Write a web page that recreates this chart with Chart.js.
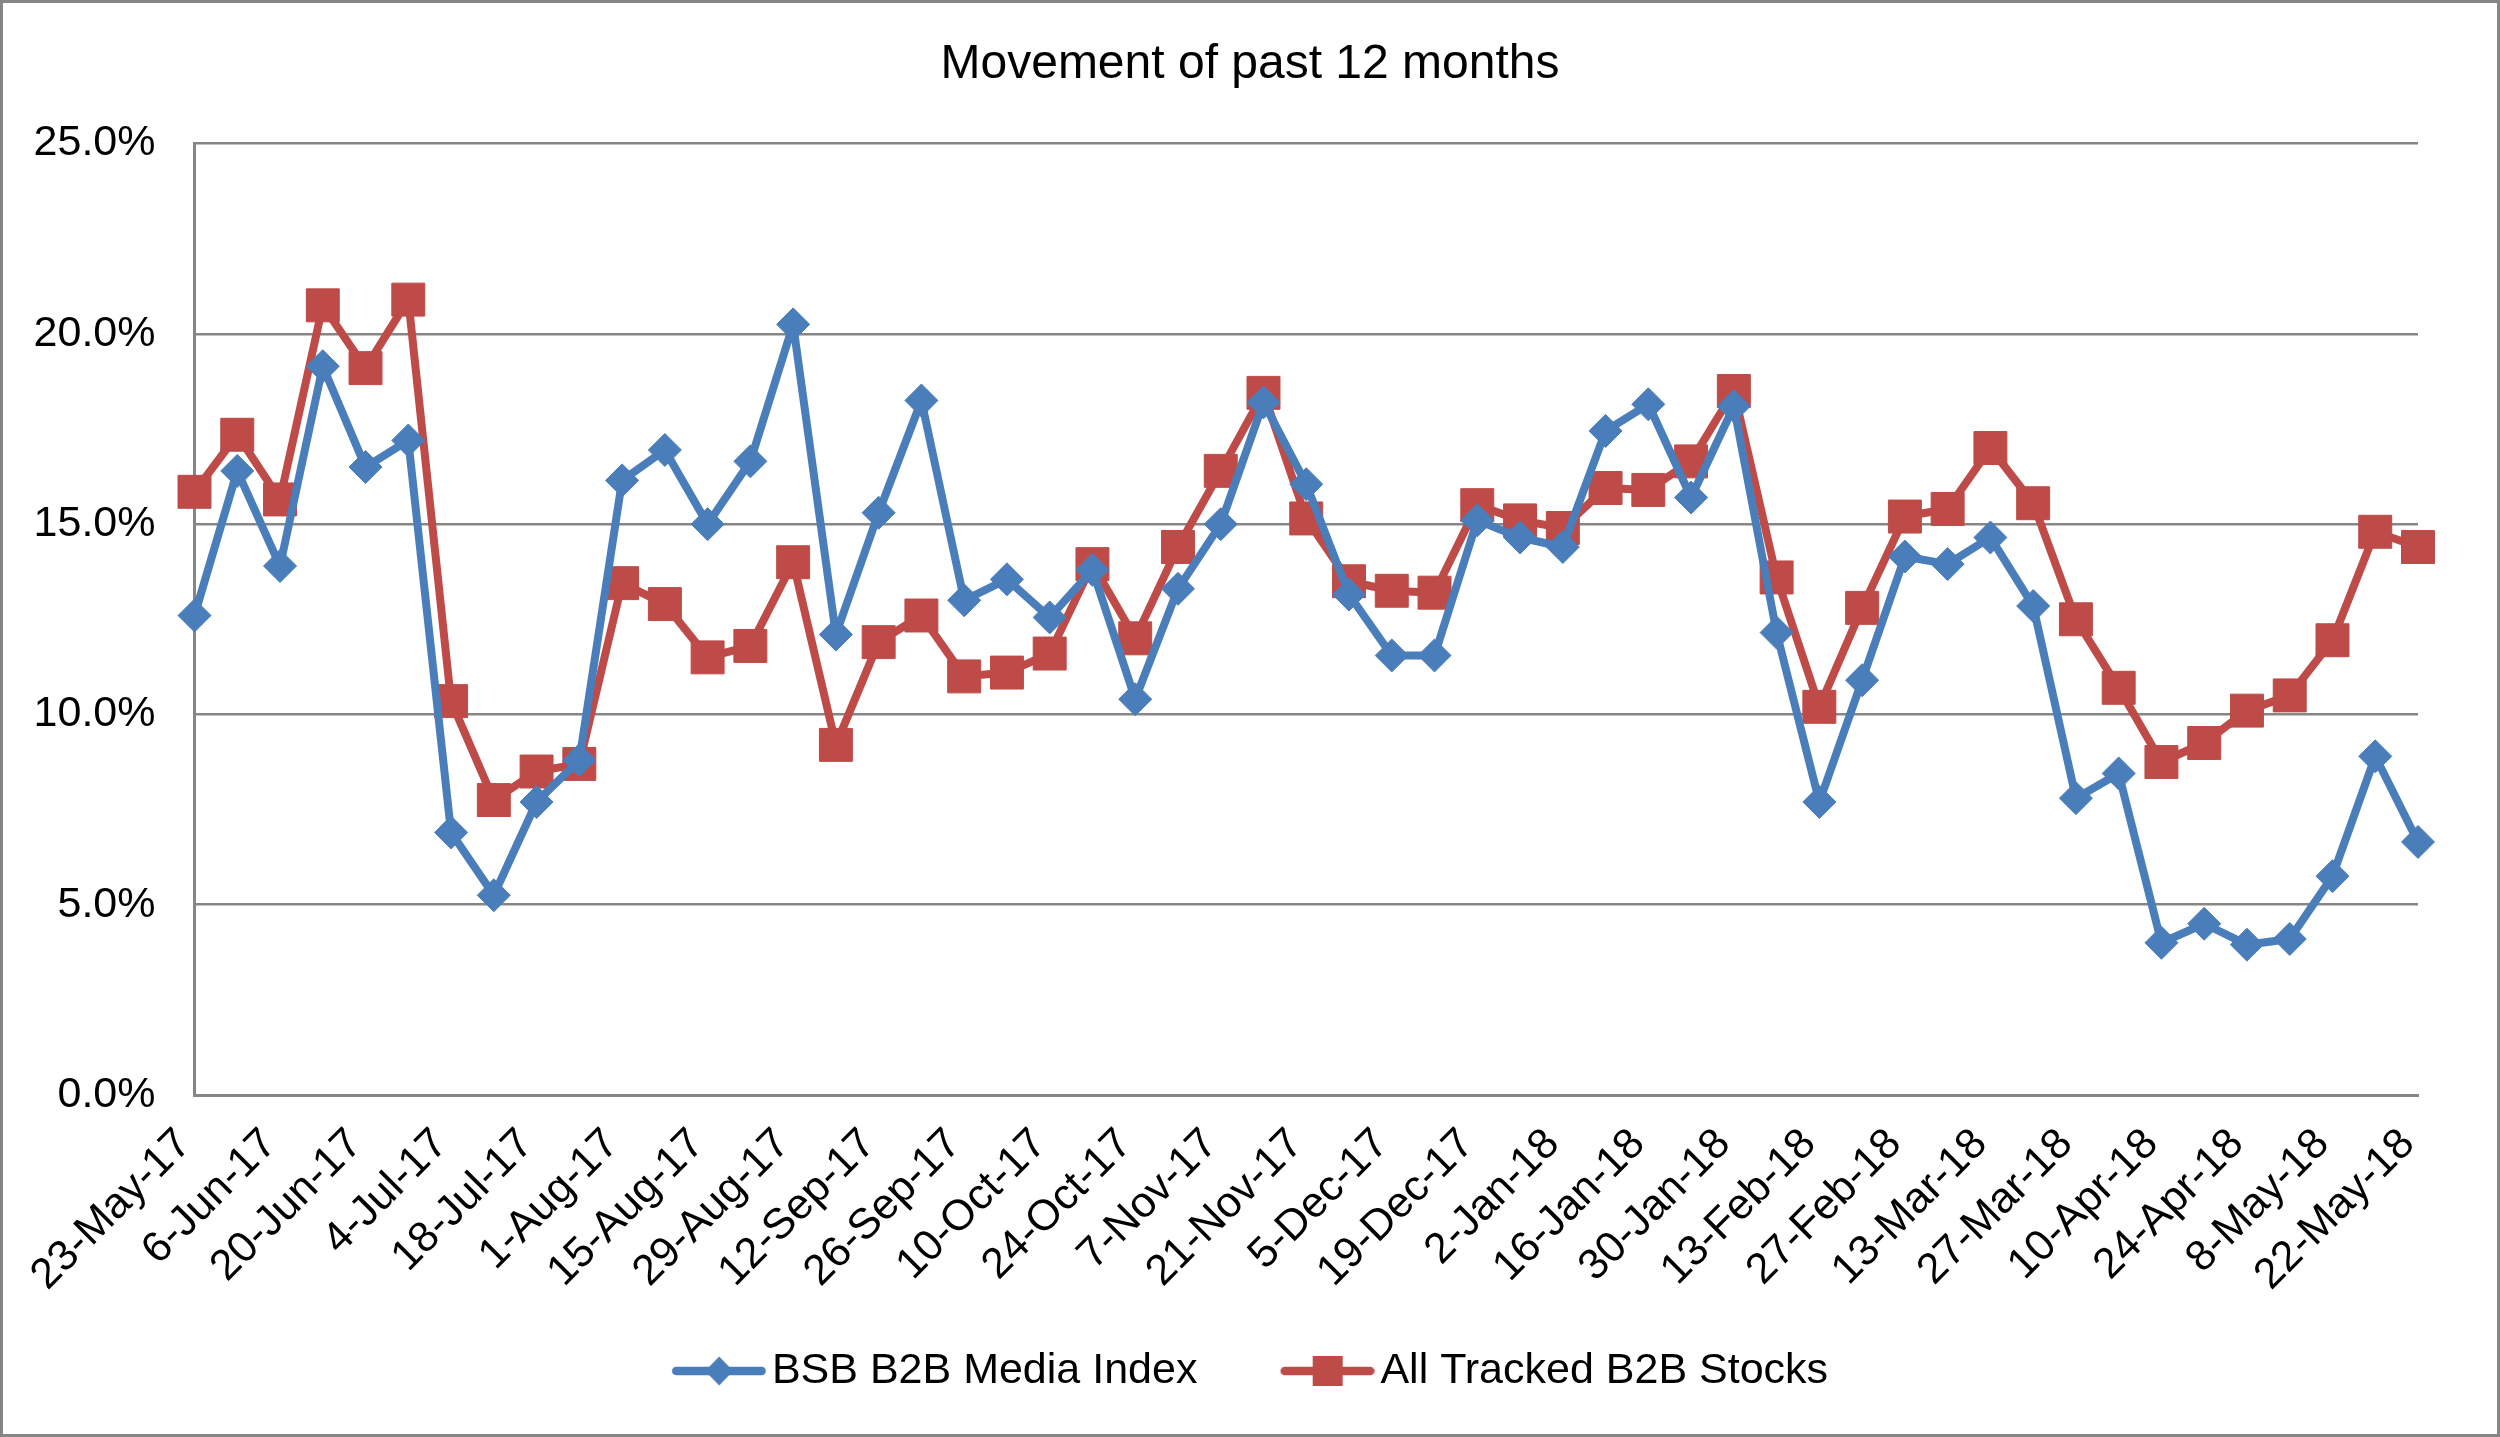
<!DOCTYPE html>
<html>
<head>
<meta charset="utf-8">
<title>Movement of past 12 months</title>
<script src="https://cdn.jsdelivr.net/npm/chart.js@4.4.1/dist/chart.umd.min.js"></script>
<style>
  html, body { margin: 0; padding: 0; background: #fff; }
  canvas { display: block; }
</style>
</head>
<body>
<canvas id="movement-chart" width="2500" height="1437"></canvas>
<script>
// Weekly dates, 23-May-17 .. 22-May-18
const weeks = [
  "23-May-17", "30-May-17", "6-Jun-17", "13-Jun-17", "20-Jun-17", "27-Jun-17",
  "4-Jul-17", "11-Jul-17", "18-Jul-17", "25-Jul-17", "1-Aug-17", "8-Aug-17",
  "15-Aug-17", "22-Aug-17", "29-Aug-17", "5-Sep-17", "12-Sep-17", "19-Sep-17",
  "26-Sep-17", "3-Oct-17", "10-Oct-17", "17-Oct-17", "24-Oct-17", "31-Oct-17",
  "7-Nov-17", "14-Nov-17", "21-Nov-17", "28-Nov-17", "5-Dec-17", "12-Dec-17",
  "19-Dec-17", "26-Dec-17", "2-Jan-18", "9-Jan-18", "16-Jan-18", "23-Jan-18",
  "30-Jan-18", "6-Feb-18", "13-Feb-18", "20-Feb-18", "27-Feb-18", "6-Mar-18",
  "13-Mar-18", "20-Mar-18", "27-Mar-18", "3-Apr-18", "10-Apr-18", "17-Apr-18",
  "24-Apr-18", "1-May-18", "8-May-18", "15-May-18", "22-May-18"
];

const mediaIndex = [
  12.6, 16.4, 13.9, 19.15, 16.5, 17.2, 6.9, 5.25, 7.7, 8.8,
  16.15, 16.95, 15.0, 16.65, 20.25, 12.1, 15.3, 18.25, 13.0, 13.55,
  12.55, 13.8, 10.4, 13.3, 15.0, 18.2, 16.05, 13.15, 11.55, 11.55,
  15.1, 14.65, 14.4, 17.45, 18.15, 15.7, 18.1, 12.15, 7.7, 10.9,
  14.15, 13.95, 14.65, 12.85, 7.8, 8.45, 4.0, 4.5, 3.95, 4.1,
  5.75, 8.9, 6.65
];

const trackedStocks = [
  15.85, 17.35, 15.65, 20.75, 19.1, 20.9, 10.35, 7.75, 8.5, 8.7,
  13.45, 12.9, 11.5, 11.8, 14.0, 9.2, 11.9, 12.6, 11.0, 11.1,
  11.6, 13.95, 12.0, 14.4, 16.4, 18.45, 15.15, 13.5, 13.25, 13.2,
  15.5, 15.1, 14.9, 15.95, 15.9, 16.65, 18.5, 13.6, 10.2, 12.8,
  15.2, 15.4, 17.0, 15.55, 12.5, 10.7, 8.75, 9.25, 10.1, 10.5,
  11.95, 14.8, 14.4
];

const seriesNames = ["BSB B2B Media Index", "All Tracked B2B Stocks"];
const yTicks = [0, 5, 10, 15, 20, 25];

const FONT = "'Liberation Sans', Arial, sans-serif";
const BLUE = "#4A7EBB";
const RED = "#BE4B48";
const GRID = "#868686";

// legend icon: line with marker, like the spreadsheet legend
function makeLegendIcon(color, marker) {
  const c = document.createElement("canvas");
  c.width = 110;
  c.height = 40;
  const g = c.getContext("2d");
  g.strokeStyle = color;
  g.lineWidth = 8.5;
  g.lineCap = "round";
  g.beginPath();
  g.moveTo(20, 20);
  g.lineTo(105.5, 20);
  g.stroke();
  g.fillStyle = color;
  const cx = 63;
  if (marker === "diamond") {
    g.beginPath();
    g.moveTo(cx - 14, 20);
    g.lineTo(cx, 5.5);
    g.lineTo(cx + 14, 20);
    g.lineTo(cx, 34.5);
    g.closePath();
    g.fill();
  } else {
    g.fillRect(cx - 15, 5, 30, 30);
  }
  return c;
}
const legendIcons = [makeLegendIcon(BLUE, "diamond"), makeLegendIcon(RED, "square")];

const framePlugin = {
  id: "frame",
  afterLayout(chart) {
    // tick labels may spill past their axis box (rotated dates, wide % labels)
    Object.values(chart.scales).forEach(s => { s._computeLabelArea = () => undefined; });
  },
  beforeDraw(chart) {
    const ctx = chart.ctx;
    ctx.save();
    ctx.fillStyle = "#fff";
    ctx.fillRect(0, 0, chart.width, chart.height);
    ctx.strokeStyle = GRID;
    ctx.lineWidth = 3;
    ctx.strokeRect(1.5, 1.5, chart.width - 3, chart.height - 3);
    ctx.restore();
  }
};

const ctx = document.getElementById("movement-chart").getContext("2d");

new Chart(ctx, {
  type: "line",
  data: {
    labels: weeks,
    datasets: [
      {
        label: seriesNames[0],
        data: mediaIndex,
        borderColor: BLUE,
        backgroundColor: BLUE,
        borderWidth: 8,
        borderJoinStyle: "round",
        pointStyle: "rectRot",
        pointRadius: 16.5,
        pointBackgroundColor: BLUE,
        pointBorderColor: BLUE,
        pointBorderWidth: 1,
        tension: 0,
        clip: false
      },
      {
        label: seriesNames[1],
        data: trackedStocks,
        borderColor: RED,
        backgroundColor: RED,
        borderWidth: 8,
        borderJoinStyle: "round",
        pointStyle: "rect",
        pointRadius: 23.3,
        pointBackgroundColor: RED,
        pointBorderColor: RED,
        pointBorderWidth: 1,
        tension: 0,
        clip: false
      }
    ]
  },
  options: {
    responsive: false,
    animation: false,
    events: [],
    layout: { padding: { top: 0, bottom: 34.5, left: 82, right: 82 } },
    plugins: {
      tooltip: { enabled: false },
      title: {
        display: true,
        text: "Movement of past 12 months",
        color: "#000",
        font: { family: FONT, size: 48, weight: "normal", lineHeight: 1.2 },
        padding: { top: 36, bottom: 50 }
      },
      legend: {
        position: "bottom",
        labels: {
          usePointStyle: true,
          pointStyleWidth: 78.5,
          padding: 83,
          color: "#000",
          font: { family: FONT, size: 43 },
          generateLabels: chart => chart.data.datasets.map((ds, i) => ({
            text: ds.label,
            pointStyle: legendIcons[i],
            fillStyle: ds.borderColor,
            strokeStyle: ds.borderColor,
            fontColor: "#000",
            lineWidth: 0,
            hidden: false,
            datasetIndex: i
          }))
        }
      }
    },
    scales: {
      x: {
        grid: { display: false, drawTicks: false },
        border: { display: true, color: GRID, width: 3 },
        ticks: {
          autoSkip: false,
          minRotation: 45,
          maxRotation: 45,
          padding: 24,
          labelOffset: -10,
          color: "#000",
          font: { family: FONT, size: 43 },
          callback: (v, i) => (i % 2 === 0 ? weeks[i] : "")
        },
        afterFit: scale => { scale.height = 171.5; }
      },
      y: {
        min: yTicks[0],
        max: yTicks[yTicks.length - 1],
        afterBuildTicks: scale => { scale.ticks = yTicks.map(v => ({ value: v })); },
        grid: { color: GRID, lineWidth: 2.5, drawTicks: false },
        border: { display: true, color: GRID, width: 3 },
        ticks: {
          padding: 39,
          color: "#000",
          font: { family: FONT, size: 43 },
          callback: v => v.toFixed(1) + "%"
        },
        afterFit: scale => { scale.width = 112.5; }
      }
    }
  },
  plugins: [framePlugin]
});
</script>
</body>
</html>
